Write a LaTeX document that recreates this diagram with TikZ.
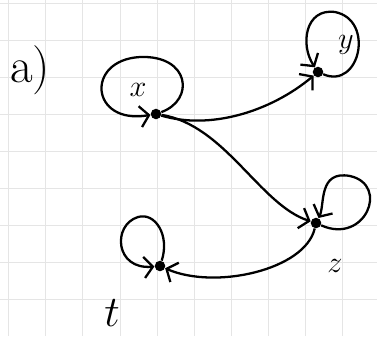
\documentclass[tikz,border=0pt]{standalone}
\usetikzlibrary{arrows.meta}
\begin{document}
\begin{tikzpicture}[x=0.02cm,y=-0.02cm,
  dot/.style={circle,fill=black,inner sep=0pt,minimum size=6pt},
  edge/.style={line width=1.3pt,-{Straight Barb[length=5pt,width=12pt,line width=1.3pt]}},
  lbl/.style={inner sep=0pt,font=\fontsize{17}{20}\selectfont}]
\useasboundingbox (0,0) rectangle (377,336);
\fill[white] (0,0) rectangle (377,336);
\foreach \gx in {8,45,82,120,157,194,231,268,305,342} \draw[black!10,line width=0.5pt] (\gx,0) -- (\gx,336);
\foreach \gy in {3,40,77,114,151,188,225,262,299} \draw[black!10,line width=0.5pt] (0,\gy) -- (377,\gy);
\node[dot] (x) at (156,114) {};
\node[dot] (y) at (318,72) {};
\node[dot] (z) at (316,223) {};
\node[dot] (t) at (160,266) {};
\node[inner sep=0pt,font=\fontsize{28}{32}\selectfont] (a) at (30,70) {a)};
\node[lbl] (lx) at (138,90) {$x$};
\node[lbl] (ly) at (346,45) {$y$};
\node[lbl] (lz) at (335,266) {$z$};
\node[inner sep=0pt,font=\fontsize{24}{28}\selectfont] (lt) at (112,313) {$t$};
\draw[edge] (x) .. controls (210,130) and (270,112) .. (y);
\draw[edge] (x) .. controls (225,125) and (260,205) .. (z);
\draw[edge] (z) .. controls (305,270) and (215,290) .. (t);
\draw[edge] (x) .. controls (195,100) and (190,55) .. (140,57) .. controls (85,60) and (90,125) .. (x);
\draw[edge] (y) .. controls (360,90) and (375,20) .. (335,12) .. controls (305,8) and (300,45) .. (y);
\draw[edge] (z) .. controls (365,245) and (390,185) .. (350,176) .. controls (318,170) and (325,205) .. (z);
\draw[edge] (t) .. controls (170,235) and (155,212) .. (138,217) .. controls (112,225) and (115,270) .. (t);
\end{tikzpicture}
\end{document}
